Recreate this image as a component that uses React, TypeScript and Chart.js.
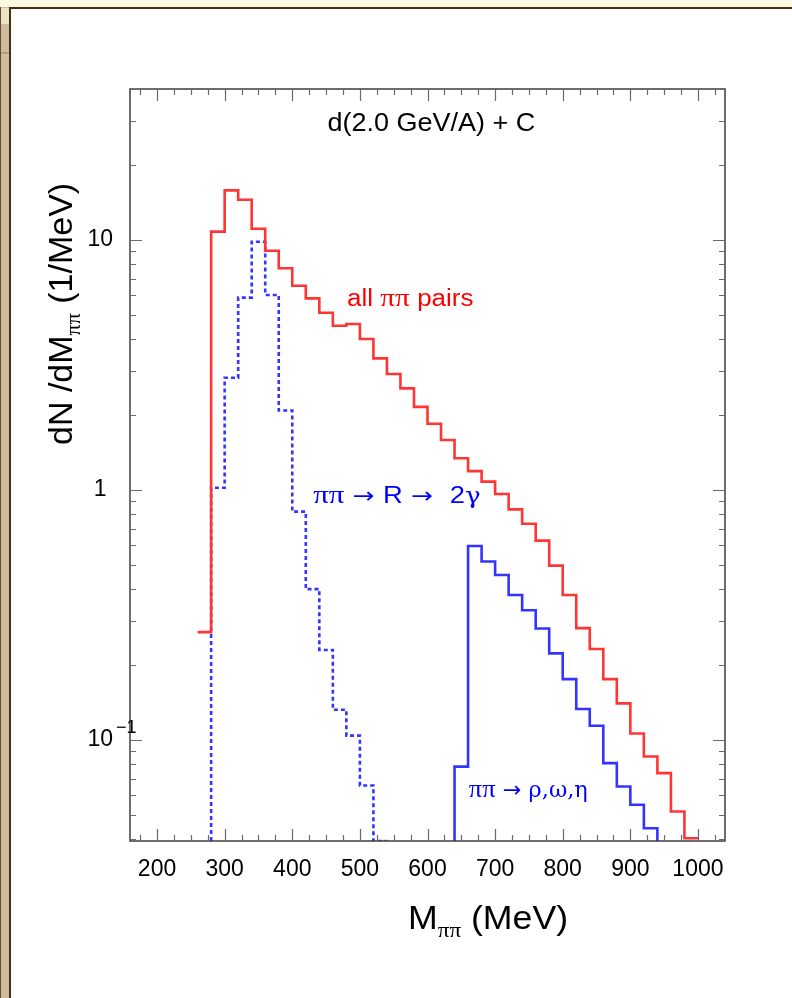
import React, { useEffect, useRef } from 'react';
import { Chart, registerables } from 'chart.js';

Chart.register(...registerables);

// ---- data (bin lower edges in MeV; last entry closes the last bin) ----
const massEdges = [
  260, 280, 300, 320, 340, 360, 380, 400, 420, 440, 460, 480, 500, 520, 540, 560, 580, 600, 620,
  640, 660, 680, 700, 720, 740, 760, 780, 800, 820, 840, 860, 880, 900, 920, 940, 960, 980, 1000,
];

// all pi-pi pairs (red solid), one value per bin starting at 260 MeV
const allPairs = [
  0.27, 10.8, 15.8, 14.5, 11.1, 9.06, 7.71, 6.56, 5.84, 5.12, 4.54, 4.61, 4.02, 3.36, 2.91, 2.55,
  2.15, 1.84, 1.585, 1.34, 1.19, 1.08, 0.964, 0.836, 0.733, 0.627, 0.498, 0.38, 0.28, 0.231, 0.175,
  0.14, 0.106, 0.0858, 0.0736, 0.0517, 0.0404,
];

// pi pi -> R -> 2 gamma (blue dashed)
const viaResonance = [
  null, 1.02, 2.81, 5.88, 9.84, 6.03, 2.08, 0.819, 0.401, 0.229, 0.132, 0.104, 0.0657, 0.0394,
  null, null, null, null, null, null, null, null, null, null, null, null, null, null, null, null,
  null, null, null, null, null, null, null,
];

// pi pi -> rho, omega, eta (blue solid)
const viaVectorMesons = [
  null, null, null, null, null, null, null, null, null, null, null, null, null, null, null, null,
  null, null, null, 0.0782, 0.597, 0.517, 0.457, 0.38, 0.33, 0.279, 0.222, 0.175, 0.133, 0.114,
  0.0807, 0.0651, 0.055, 0.0443, null, null, null,
];

const xMajorTicks = [200, 300, 400, 500, 600, 700, 800, 900, 1000];
const xMinorTicks = [
  175, 225, 250, 275, 325, 350, 375, 425, 450, 475, 525, 550, 575, 625, 650, 675, 725, 750, 775,
  825, 850, 875, 925, 950, 975, 1025,
];
const yMajorTicks = [0.1, 1, 10];
const yMinorTicks = [
  0.04, 0.05, 0.06, 0.07, 0.08, 0.09, 0.2, 0.3, 0.4, 0.5, 0.6, 0.7, 0.8, 0.9, 2, 3, 4, 5, 6, 7, 8,
  9, 20, 30,
];
const yTickLabels = ['10', '1', '10'];
const yTickExponents = ['\u22121', '', ''];

const X_MIN = 160;
const X_MAX = 1040;
const Y_MIN = 0.0394;
const Y_MAX = 40.2;

const SANS = "'Liberation Sans', Arial, Helvetica, sans-serif";
const PI = "'Liberation Serif', 'DejaVu Serif', serif";
const GREEK = "'DejaVu Serif', 'Liberation Serif', serif";
const ARROW = "'DejaVu Sans', sans-serif";

type Pt = { x: number; y: number };

function stepPoints(vals: (number | null)[], dropStart: boolean, dropEnd: boolean): Pt[] {
  let first = -1;
  let last = -1;
  vals.forEach((v, i) => {
    if (v != null) {
      if (first < 0) first = i;
      last = i;
    }
  });
  const pts: Pt[] = [];
  if (dropStart) pts.push({ x: massEdges[first], y: Y_MIN });
  for (let i = first; i <= last; i++) pts.push({ x: massEdges[i], y: vals[i] as number });
  pts.push({ x: massEdges[last + 1], y: vals[last] as number });
  if (dropEnd) pts.push({ x: massEdges[last + 1], y: Y_MIN });
  return pts;
}

type Seg = { t: string; f: string; dy?: number };

function drawRich(
  ctx: CanvasRenderingContext2D,
  segs: Seg[],
  x: number,
  y: number,
  color: string,
  stretch = 1,
  rotate = false
) {
  ctx.save();
  ctx.translate(x, y);
  if (rotate) ctx.rotate(-Math.PI / 2);
  ctx.scale(stretch, 1);
  ctx.fillStyle = color;
  ctx.textAlign = 'left';
  ctx.textBaseline = 'alphabetic';
  let cx = 0;
  for (const s of segs) {
    ctx.font = s.f;
    ctx.fillText(s.t, cx, s.dy || 0);
    cx += ctx.measureText(s.t).width;
  }
  ctx.restore();
}

const isIn = (arr: number[], v: number) => arr.some((a) => Math.abs(a - v) < 1e-9 * Math.max(1, Math.abs(a)));

const decorPlugin = {
  id: 'decor',
  afterDatasetsDraw(chart: any) {
    const { ctx, chartArea: a } = chart;
    const xs = chart.scales.x;
    const ys = chart.scales.y;
    ctx.save();

    // frame
    ctx.strokeStyle = '#3c3c3c';
    ctx.lineWidth = 1.5;
    ctx.strokeRect(a.left, a.top, a.right - a.left, a.bottom - a.top);

    // inward ticks on all four sides
    ctx.strokeStyle = '#6a6a6a';
    ctx.lineWidth = 1.2;
    ctx.beginPath();
    for (const t of xs.ticks) {
      const px = Math.round(xs.getPixelForValue(t.value)) + 0.5;
      const len = isIn(xMajorTicks, t.value) ? 12 : 6;
      ctx.moveTo(px, a.bottom);
      ctx.lineTo(px, a.bottom - len);
      ctx.moveTo(px, a.top);
      ctx.lineTo(px, a.top + len);
    }
    for (const t of ys.ticks) {
      const py = Math.round(ys.getPixelForValue(t.value)) + 0.5;
      const len = isIn(yMajorTicks, t.value) ? 12 : 6;
      ctx.moveTo(a.left, py);
      ctx.lineTo(a.left + len, py);
      ctx.moveTo(a.right, py);
      ctx.lineTo(a.right - len, py);
    }
    ctx.stroke();

    // exponent on the y tick labels
    ctx.font = `23px ${SANS}`;
    const w10 = ctx.measureText('10').width;
    yMajorTicks.forEach((v, i) => {
      const e = yTickExponents[i];
      if (!e) return;
      const py = ys.getPixelForValue(v);
      const cx = a.left - 17 - w10 / 2;
      ctx.font = `18px ${SANS}`;
      ctx.fillStyle = '#000';
      ctx.textAlign = 'left';
      ctx.textBaseline = 'alphabetic';
      ctx.fillText(e, cx + w10 / 2 + 3, py - 7);
    });

    // title inside the frame
    drawRich(ctx, [{ t: 'd(2.0 GeV/A) + C', f: `25px ${SANS}` }], xs.getPixelForValue(452), ys.getPixelForValue(27.3), '#000', 1.08);

    // series annotations
    drawRich(
      ctx,
      [
        { t: 'all ', f: `23px ${SANS}` },
        { t: '\u03c0\u03c0', f: `26px ${PI}` },
        { t: ' pairs', f: `23px ${SANS}` },
      ],
      xs.getPixelForValue(481),
      ys.getPixelForValue(5.45),
      '#ff0000',
      1.13
    );
    drawRich(
      ctx,
      [
        { t: '\u03c0\u03c0', f: `26px ${PI}` },
        { t: ' \u2192 ', f: `22px ${ARROW}` },
        { t: 'R', f: `23px ${SANS}` },
        { t: ' \u2192  ', f: `22px ${ARROW}` },
        { t: '2', f: `23px ${SANS}` },
        { t: '\u03b3', f: `22px ${GREEK}` },
      ],
      xs.getPixelForValue(431),
      ys.getPixelForValue(0.887),
      '#0000ff',
      1.19
    );
    drawRich(
      ctx,
      [
        { t: '\u03c0\u03c0', f: `26px ${PI}` },
        { t: ' \u2192 ', f: `22px ${ARROW}` },
        { t: '\u03c1,\u03c9,\u03b7', f: `22px ${GREEK}` },
      ],
      xs.getPixelForValue(661),
      ys.getPixelForValue(0.0591),
      '#0000ff',
      1.02
    );

    // axis titles
    drawRich(
      ctx,
      [
        { t: 'M', f: `34px ${SANS}` },
        { t: '\u03c0\u03c0', f: `22px ${PI}`, dy: 8 },
        { t: ' (MeV)', f: `34px ${SANS}` },
      ],
      408,
      a.bottom + 88,
      '#000',
      1.05
    );
    drawRich(
      ctx,
      [
        { t: 'dN /dM', f: `34px ${SANS}` },
        { t: '\u03c0\u03c0', f: `22px ${PI}`, dy: 8 },
        { t: ' (1/MeV)', f: `34px ${SANS}` },
      ],
      a.left - 58,
      445,
      '#000',
      1.0,
      true
    );

    ctx.restore();
  },
};

export default function App() {
  const canvasRef = useRef<HTMLCanvasElement | null>(null);

  useEffect(() => {
    const canvas = canvasRef.current;
    if (!canvas) return;
    const chart = new Chart(canvas, {
      type: 'line',
      data: {
        datasets: [
          {
            label: 'all \u03c0\u03c0 pairs',
            data: stepPoints(allPairs, false, false),
            borderColor: '#ff3434',
            borderWidth: 2.6,
            stepped: true,
            pointRadius: 0,
            fill: false,
            borderJoinStyle: 'miter',
          },
          {
            label: '\u03c0\u03c0 \u2192 R \u2192 2\u03b3',
            data: stepPoints(viaResonance, true, false),
            borderColor: '#3434ff',
            borderWidth: 2.6,
            borderDash: [4, 3],
            stepped: true,
            pointRadius: 0,
            fill: false,
            borderJoinStyle: 'miter',
          },
          {
            label: '\u03c0\u03c0 \u2192 \u03c1,\u03c9,\u03b7',
            data: stepPoints(viaVectorMesons, true, true),
            borderColor: '#3434ff',
            borderWidth: 2.6,
            stepped: true,
            pointRadius: 0,
            fill: false,
            borderJoinStyle: 'miter',
          },
        ],
      },
      options: {
        animation: false,
        responsive: false,
        devicePixelRatio: 1,
        layout: { padding: { left: 0, top: 89, right: 67, bottom: 0 } },
        plugins: { legend: { display: false }, title: { display: false }, tooltip: { enabled: false } },
        scales: {
          x: {
            type: 'linear',
            min: X_MIN,
            max: X_MAX,
            bounds: 'data',
            grid: { display: false, drawTicks: false, tickLength: 0 },
            border: { display: false },
            afterBuildTicks: (scale: any) => {
              scale.ticks = [...xMajorTicks, ...xMinorTicks].sort((p, q) => p - q).map((v) => ({ value: v }));
            },
            afterFit: (scale: any) => {
              scale.height = 157;
            },
            ticks: {
              autoSkip: false,
              maxRotation: 0,
              minRotation: 0,
              padding: 15,
              color: '#000',
              font: { family: SANS, size: 23 },
              callback: (v: any) => (isIn(xMajorTicks, Number(v)) ? String(v) : ''),
            },
          },
          y: {
            type: 'logarithmic',
            min: Y_MIN,
            max: Y_MAX,
            bounds: 'data',
            grid: { display: false, drawTicks: false, tickLength: 0 },
            border: { display: false },
            afterBuildTicks: (scale: any) => {
              scale.ticks = [...yMajorTicks, ...yMinorTicks].sort((p, q) => p - q).map((v) => ({ value: v }));
            },
            afterFit: (scale: any) => {
              scale.width = 130;
            },
            ticks: {
              autoSkip: false,
              padding: 17,
              crossAlign: 'center',
              color: '#000',
              font: { family: SANS, size: 23 },
              callback: (v: any) => {
                const i = yMajorTicks.findIndex((m) => Math.abs(m - Number(v)) < 1e-9 * Math.max(1, m));
                return i >= 0 ? yTickLabels[i] : '';
              },
            },
          },
        },
      },
      plugins: [decorPlugin],
    } as any);
    return () => chart.destroy();
  }, []);

  return (
    <div
      style={{
        position: 'absolute',
        left: 0,
        top: 0,
        width: 792,
        height: 998,
        overflow: 'hidden',
        background: '#fcf9e3',
      }}
    >
      <div style={{ position: 'absolute', left: 0, top: 7, width: 10, bottom: 0, background: '#cbbd9f' }} />
      <div style={{ position: 'absolute', left: 0, top: 7, width: 1, bottom: 0, background: '#6b4a2a' }} />
      <div style={{ position: 'absolute', left: 1, top: 8, width: 8, height: 16, background: '#ebe3c8' }} />
      <div style={{ position: 'absolute', left: 1, top: 52, width: 8, height: 2, background: '#ad9d7e' }} />
      <div
        style={{
          position: 'absolute',
          left: 9,
          top: 7,
          right: 0,
          bottom: 0,
          background: '#ffffff',
          borderLeft: '2px solid #4a2c10',
          borderTop: '2px solid #4a2c10',
        }}
      />
      <canvas ref={canvasRef} width={792} height={998} style={{ position: 'absolute', left: 0, top: 0, width: 792, height: 998 }} />
    </div>
  );
}
